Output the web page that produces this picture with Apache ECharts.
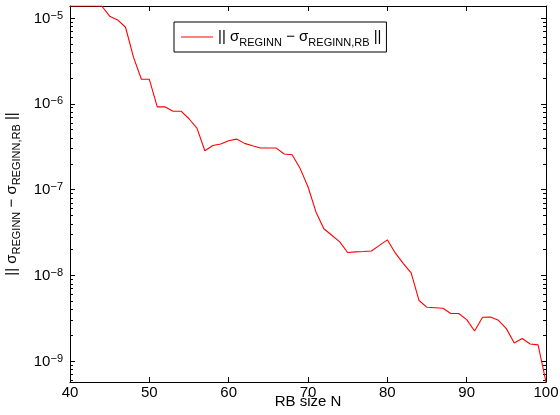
<!DOCTYPE html>
<html>
<head>
<meta charset="utf-8">
<script src="https://cdn.jsdelivr.net/npm/echarts@6/dist/echarts.min.js"></script>
<style>
	html, body { margin: 0; padding: 0; background: #fff; }
	#chart { width: 560px; height: 415px; }
</style>
</head>
<body>
<div id="chart"></div>
<script>
const rbSize = [];
for (let n = 40; n <= 100; n++) rbSize.push(n);

// error norm, one value per RB size 40..100
const errNorm = [
	1.38e-5, 1.38e-5, 1.38e-5, 1.38e-5, 1.38e-5, 1.05e-5, 9.5e-6, 7.8e-6, 3.5e-6, 1.93e-6,
	1.93e-6, 9.2e-7, 9.2e-7, 8.2e-7, 8.2e-7, 6.7e-7, 5.2e-7, 2.84e-7, 3.27e-7, 3.4e-7,
	3.71e-7, 3.88e-7, 3.46e-7, 3.24e-7, 3.05e-7, 3.05e-7, 3.05e-7, 2.6e-7, 2.55e-7, 1.77e-7,
	1.08e-7, 5.5e-8, 3.5e-8, 2.94e-8, 2.46e-8, 1.85e-8, 1.88e-8, 1.9e-8, 1.93e-8, 2.24e-8,
	2.6e-8, 1.83e-8, 1.38e-8, 1.07e-8, 5.1e-9, 4.25e-9, 4.2e-9, 4.15e-9, 3.6e-9, 3.6e-9,
	3.06e-9, 2.25e-9, 3.26e-9, 3.28e-9, 3.0e-9, 2.4e-9, 1.63e-9, 1.84e-9, 1.59e-9, 1.55e-9,
	5.73e-10
];

const decades = [-10, -9, -8, -7, -6, -5, -4];

const FONT = "'Liberation Sans', Arial, sans-serif";
const lo = Math.log10(Math.min(...errNorm));
const hi = Math.log10(Math.max(...errNorm));

const minorTicks = [];
decades.forEach(k => {
	for (let m = 2; m <= 9; m++) minorTicks.push(k + Math.log10(m));
});

const chart = echarts.init(document.getElementById("chart"));

const subRich = {
	sub: { fontSize: 11, fontFamily: FONT, color: "#000", lineHeight: 11, verticalAlign: "bottom" }
};

function tickAxis (position, major, withLabel) {
	return {
		type: "value",
		position: position,
		min: lo,
		max: hi,
		axisLine: { show: major, onZero: false, lineStyle: { color: "#000", width: 1 } },
		axisTick: {
			show: true,
			inside: true,
			length: major ? 5 : 3,
			customValues: major ? decades : minorTicks,
			lineStyle: { color: "#000", width: 1 }
		},
		axisLabel: {
			show: withLabel,
			customValues: decades,
			margin: 7,
			formatter: v => "{b|10}{s|\u2212" + Math.abs(Math.round(v)) + "}",
			rich: {
				b: { fontSize: 15, fontFamily: FONT, color: "#000", lineHeight: 16, verticalAlign: "bottom" },
				s: { fontSize: 11, fontFamily: FONT, color: "#000", lineHeight: 11, verticalAlign: "top" }
			},
			lineHeight: 20
		},
		splitLine: { show: false }
	};
}

const leftMajor = tickAxis("left", true, true);
leftMajor.name = "|| \u03c3{sub|REGINN} \u2212 \u03c3{sub|REGINN,RB} ||";
leftMajor.nameLocation = "middle";
leftMajor.nameGap = 43;
leftMajor.nameTextStyle = { fontSize: 15, fontFamily: FONT, color: "#000", lineHeight: 22, rich: subRich };

option = {
	animation: false,
	backgroundColor: "#fff",
	grid: { left: 70, right: 14, top: 6, bottom: 33, outerBoundsMode: "none" },
	legend: {
		left: 174,
		top: 22,
		padding: [4, 5, 4, 7],
		icon: "rect",
		itemWidth: 32,
		itemHeight: 1,
		backgroundColor: "#fff",
		borderColor: "#000",
		borderWidth: 1,
		borderRadius: 0,
		formatter: () => "|| \u03c3{sub|REGINN} \u2212 \u03c3{sub|REGINN,RB} ||",
		textStyle: { fontSize: 15, fontFamily: FONT, color: "#000", lineHeight: 22, rich: subRich }
	},
	xAxis: [{
		type: "value",
		position: "bottom",
		min: 40,
		max: 100,
		interval: 10,
		name: "RB size N",
		nameLocation: "middle",
		nameGap: 12,
		nameMoveOverlap: false,
		nameTextStyle: { fontSize: 15, fontFamily: FONT, color: "#000", verticalAlign: "top" },
		axisLine: { onZero: false, lineStyle: { color: "#000", width: 1 } },
		axisTick: { inside: true, length: 5, lineStyle: { color: "#000" } },
		axisLabel: { fontSize: 15, fontFamily: FONT, color: "#000", margin: 3 },
		splitLine: { show: false }
	}, {
		type: "value",
		position: "top",
		min: 40,
		max: 100,
		interval: 10,
		axisLine: { onZero: false, lineStyle: { color: "#000", width: 1 } },
		axisTick: { inside: true, length: 5, lineStyle: { color: "#000" } },
		axisLabel: { show: false },
		splitLine: { show: false }
	}],
	yAxis: [{
		type: "log",
		show: false,
		min: Math.min(...errNorm),
		max: Math.max(...errNorm),
		splitLine: { show: false }
	},
		leftMajor,
		tickAxis("left", false, false),
		tickAxis("right", true, false),
		tickAxis("right", false, false)
	],
	series: [{
		name: "err",
		type: "line",
		xAxisIndex: 0,
		yAxisIndex: 0,
		symbol: "none",
		data: rbSize.map((n, i) => [n, errNorm[i]]),
		lineStyle: { color: "#ff0000", width: 1.1 },
		itemStyle: { color: "#ff0000" }
	}]
};

chart.setOption(option);
window.onresize = chart.resize;
</script>
</body>
</html>
